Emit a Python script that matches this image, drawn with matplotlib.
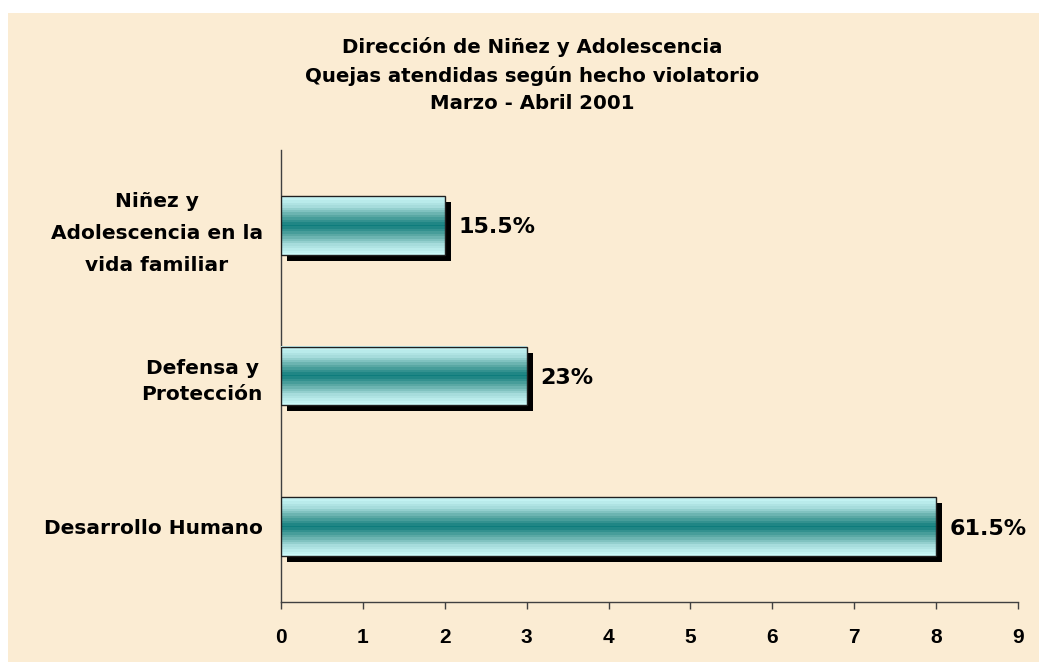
import numpy as np
import matplotlib
matplotlib.use("Agg")
import matplotlib.pyplot as plt
from matplotlib.patches import Rectangle
from matplotlib.colors import LinearSegmentedColormap
import matplotlib.transforms as mtransforms

categories = ["Desarrollo Humano", "Defensa y\nProtección", "Niñez y\nAdolescencia en la\nvida familiar"]
values = [8, 3, 2]
value_labels = ["61.5%", "23%", "15.5%"]
xticks = [0, 1, 2, 3, 4, 5, 6, 7, 8, 9]
title = "Dirección de Niñez y Adolescencia\nQuejas atendidas según hecho violatorio\nMarzo - Abril 2001"

W, H = 1039, 662
fig = plt.figure(figsize=(W / 100, H / 100), dpi=100)
fig.patch.set_facecolor("white")
fig.patches.append(Rectangle((8 / W, 0), 1 - 8 / W, 1 - 13 / H, transform=fig.transFigure,
                             facecolor="#fbecd3", edgecolor="none", zorder=-10))

ax = fig.add_axes([281 / W, 1 - 602 / H, (1018 - 281) / W, (602 - 150) / H])
ax.set_facecolor("none")
ax.set_xlim(0, 9)
ax.set_ylim(-0.5, 2.5)

bar_h = 0.39
cmap = LinearSegmentedColormap.from_list("tealgrad", ["#0e7c7c", "#5aa8a4", "#a6dcdc", "#ccfafa"])
n = 60
prof = np.abs(np.linspace(-1, 1, n))
levels = np.round(prof * 12) / 12
grad = cmap(levels)[:, None, :]

shadow_tr = ax.transData + mtransforms.ScaledTranslation(6 / 100, -6 / 100, fig.dpi_scale_trans)
ypos = np.arange(len(categories))
for y, v, lab in zip(ypos, values, value_labels):
    ax.add_patch(Rectangle((0, y - bar_h / 2), v, bar_h, facecolor="black", edgecolor="none",
                           transform=shadow_tr, zorder=2))
    ax.imshow(grad, extent=[0, v, y - bar_h / 2, y + bar_h / 2], aspect="auto",
              interpolation="nearest", zorder=3)
    ax.add_patch(Rectangle((0, y - bar_h / 2), v, bar_h, facecolor="none", edgecolor="#202020",
                           linewidth=1.0, zorder=4))
    ax.annotate(lab, xy=(v, y), xytext=(14, -2), textcoords="offset pixels", ha="left", va="center",
                fontsize=16, fontweight="bold", family="DejaVu Sans", color="black")

ax.set_xlim(0, 9)
ax.set_ylim(-0.5, 2.5)
ax.set_yticks(ypos)
ax.set_yticklabels(categories, fontsize=14.5, fontweight="bold", family="DejaVu Sans")
for t, ls in zip(ax.get_yticklabels(), [1.45, 1.45, 1.85]):
    t.set_multialignment("center")
    t.set_linespacing(ls)
ax.tick_params(axis="y", length=0, pad=13)
ax.set_xticks(xticks)
ax.set_xticklabels([str(x) for x in xticks], fontsize=15, fontweight="bold", family="Liberation Sans")
ax.tick_params(axis="x", direction="out", length=5, width=1, color="#404040", pad=14)
for s in ["top", "right"]:
    ax.spines[s].set_visible(False)
for s in ["left", "bottom"]:
    ax.spines[s].set_color("#404040")
    ax.spines[s].set_linewidth(1)

fig.text(532 / W, 1 - 75 / H, title, ha="center", va="center", fontsize=14.2, fontweight="bold",
         family="DejaVu Sans", linespacing=1.58)

fig.savefig("out.png", dpi=100, facecolor=fig.get_facecolor())
